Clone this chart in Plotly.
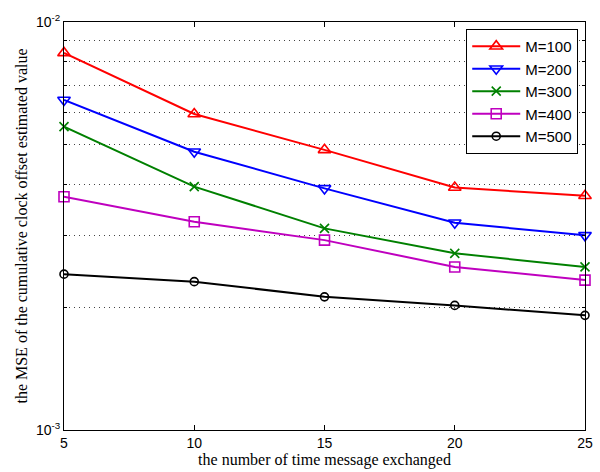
import plotly.graph_objects as go

x_vals = [5, 10, 15, 20, 25]
m100 = [8.4e-3, 5.95e-3, 4.86e-3, 3.93e-3, 3.75e-3]
m200 = [6.44e-3, 4.81e-3, 3.91e-3, 3.22e-3, 3.0e-3]
m300 = [5.54e-3, 3.95e-3, 3.12e-3, 2.71e-3, 2.51e-3]
m400 = [3.73e-3, 3.24e-3, 2.92e-3, 2.51e-3, 2.33e-3]
m500 = [2.41e-3, 2.31e-3, 2.12e-3, 2.02e-3, 1.91e-3]

series_names = ["M=100", "M=200", "M=300", "M=400", "M=500"]
series_vals = [m100, m200, m300, m400, m500]
colors = ["#ff0000", "#0000ff", "#008000", "#bf00bf", "#000000"]
symbols = ["triangle-up-open", "triangle-down-open", "x-thin-open", "square-open", "circle-open"]
sizes = [11, 11, 9, 10, 8]

fig = go.Figure()
for name, vals, c, s, sz in zip(series_names, series_vals, colors, symbols, sizes):
    fig.add_trace(go.Scatter(
        x=x_vals, y=vals, name=name, mode="lines+markers",
        line=dict(color=c, width=2),
        marker=dict(symbol=s, size=sz, color=c, line=dict(color=c, width=1.6)),
        cliponaxis=False,
    ))

minor_vals = [k * 1e-3 for k in range(2, 10)]

fig.update_layout(
    width=600, height=472,
    margin=dict(l=64, r=7, t=22, b=42),
    plot_bgcolor="white", paper_bgcolor="white",
    font=dict(family="Liberation Sans, Arial", size=14, color="black"),
    showlegend=True,
    legend=dict(
        x=0.987, y=0.983, xanchor="right", yanchor="top",
        bgcolor="white", bordercolor="black", borderwidth=1,
        font=dict(family="Liberation Sans, Arial", size=15),
        tracegroupgap=0, itemwidth=48,
    ),
    xaxis=dict(
        range=[5, 25], tickvals=[5, 10, 15, 20, 25],
        showline=True, linecolor="black", linewidth=1, mirror="ticks",
        ticks="inside", ticklen=5, tickcolor="black",
        showgrid=False, zeroline=False, ticklabeloverflow="allow",
        tickfont=dict(family="Liberation Sans, Arial", size=14),
        title=dict(text="the number of time message exchanged",
                   font=dict(family="Liberation Serif, Times New Roman", size=16),
                   standoff=0),
    ),
    yaxis=dict(
        type="log", range=[-3, -2],
        tickvals=[1e-3, 1e-2], ticktext=["10<sup>-3</sup>", "10<sup>-2</sup>"],
        showline=True, linecolor="black", linewidth=1, mirror="ticks",
        ticks="inside", ticklen=5, tickcolor="black",
        showgrid=False, zeroline=False, ticklabeloverflow="allow",
        tickfont=dict(family="Liberation Sans, Arial", size=14),
        minor=dict(tickvals=minor_vals, ticks="inside", ticklen=3, tickcolor="black",
                   showgrid=True, gridcolor="#444444", gridwidth=1, griddash="1px,4px"),
        title=dict(text="the MSE of the cumulative clock offset estimated value",
                   font=dict(family="Liberation Serif, Times New Roman", size=16),
                   standoff=4),
    ),
)

fig.write_html("out.html")
